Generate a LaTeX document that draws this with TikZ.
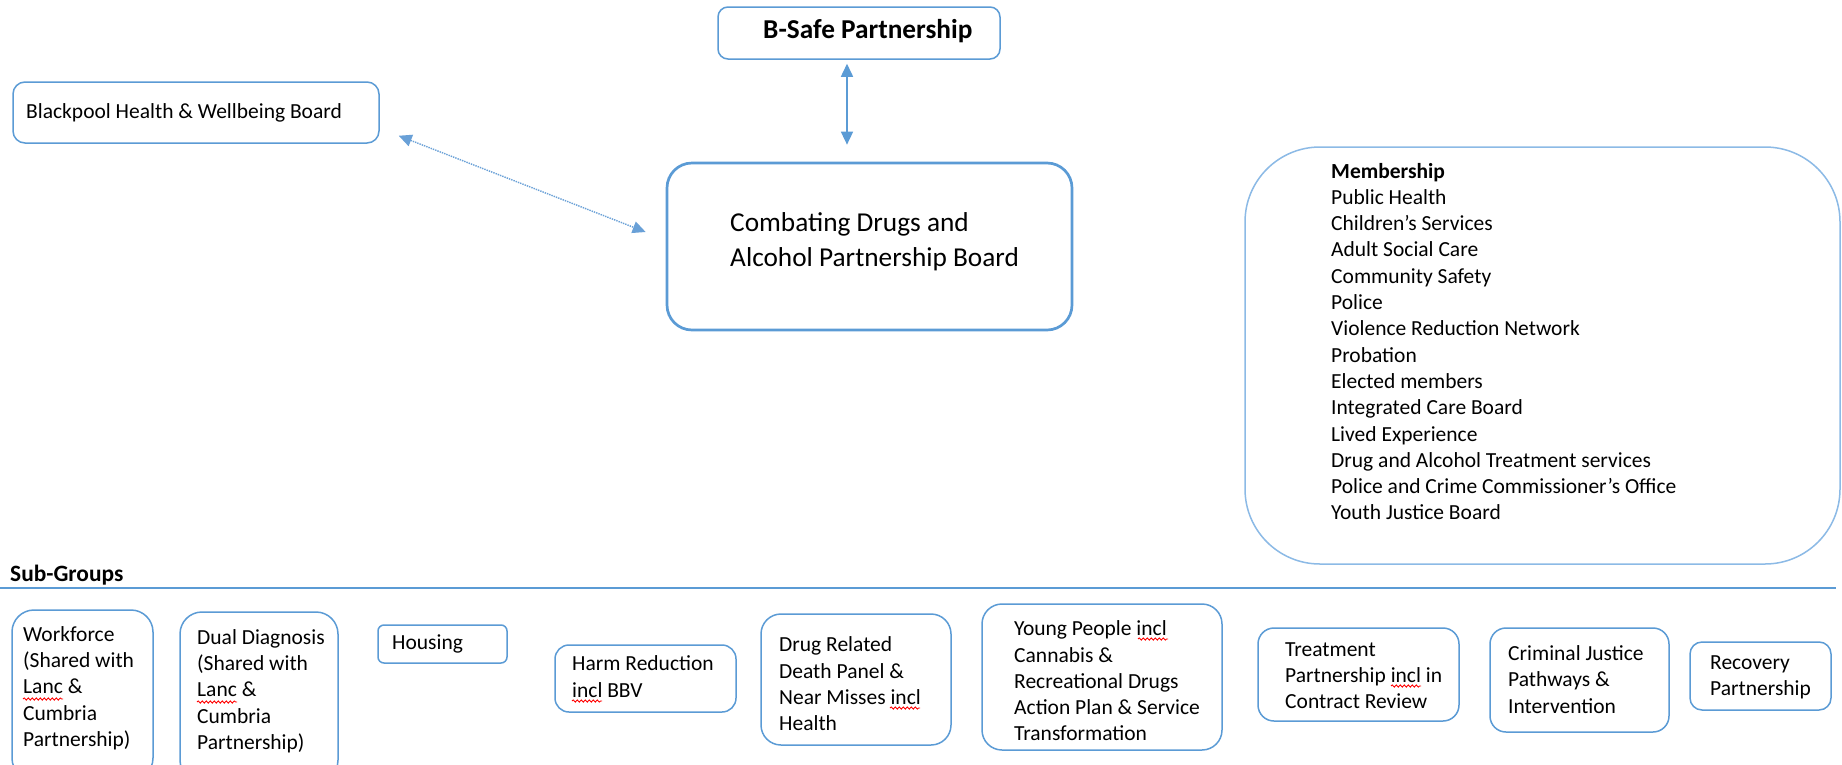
\documentclass[tikz,border=0pt]{standalone}
\usepackage{fontspec}
\setmainfont{Carlito}
\usetikzlibrary{arrows.meta,decorations.pathmorphing}
\definecolor{boxblue}{RGB}{91,155,213}
\definecolor{memblue}{RGB}{140,186,230}
\definecolor{dotblue}{RGB}{105,160,215}
\begin{document}
\begin{tikzpicture}[x=1pt,y=-1pt,
  box/.style={draw=boxblue, line width=1.5pt, rectangle, inner sep=0pt},
  txt/.style={font=\fontsize{21.5}{26.3}\selectfont, align=left, inner sep=0pt, anchor=west, text=black},
  bigtxt/.style={font=\fontsize{27.3}{35}\selectfont, align=left, inner sep=0pt, anchor=west, text=black},
  sqwave/.style={draw=red, line width=0.9pt, decorate, decoration={snake, amplitude=1.1pt, segment length=4pt}},
  biarrow/.style={draw=boxblue, line width=1.5pt, {Triangle[width=12pt,length=13pt]}-{Triangle[width=12pt,length=13pt]}}
]
\clip (0,0) rectangle (1842,764);
\fill[white] (0,0) rectangle (1842,764);

% top boxes
\node[box, rounded corners=10pt, minimum width=282pt, minimum height=52pt] (bsafe) at (859,33) {};
\node[bigtxt, font=\fontsize{27.3}{35}\selectfont\bfseries] (bsafet) at (763,31) {B-Safe Partnership};

\node[box, rounded corners=12pt, minimum width=366pt, minimum height=61pt] (hwb) at (196,112.5) {};
\node[txt] (hwbt) at (26,113) {Blackpool Health \& Wellbeing Board};

\node[box, line width=2.7pt, rounded corners=25pt, minimum width=405pt, minimum height=167pt] (cdb) at (869.5,246.5) {};
\node[bigtxt] (cdbt) at (730,242) {Combating Drugs and\\Alcohol Partnership Board};

\node[box, draw=memblue, rounded corners=75pt, minimum width=595pt, minimum height=417pt] (mem) at (1542.5,355.5) {};
\node[txt] (memt) at (1331,341.5) {\textbf{Membership}\\Public Health\\Children’s Services\\Adult Social Care\\Community Safety\\Police\\Violence Reduction Network\\Probation\\Elected members\\Integrated Care Board\\Lived Experience\\Drug and Alcohol Treatment services\\Police and Crime Commissioner’s Office\\Youth Justice Board};

% connectors
\draw[biarrow] ([xshift=-12pt,yshift=-4pt]bsafe.south) -- ([xshift=-22.5pt,yshift=17pt]cdb.north);
\draw[biarrow, draw=dotblue, line width=1.4pt, dash pattern=on 1.4pt off 1pt] ([xshift=19pt,yshift=8pt]hwb.south east) -- ([xshift=-20pt,yshift=14.5pt]cdb.west);

% sub-groups
\node[txt, font=\fontsize{23.4}{28}\selectfont\bfseries] (subg) at (10,575) {Sub-Groups};
\draw[boxblue, line width=1.8pt] (0,588) -- (1836,588);

\node[box, rounded corners=22pt, minimum width=141pt, minimum height=170pt] (wf) at (82.5,695) {};
\node[txt] (wft) at (23,688) {Workforce\\(Shared with\\Lanc \&\\Cumbria\\Partnership)};

\node[box, rounded corners=22pt, minimum width=158pt, minimum height=170pt] (dd) at (259,697) {};
\node[txt] (ddt) at (197,691) {Dual Diagnosis\\(Shared with\\Lanc \&\\Cumbria\\Partnership)};

\node[box, rounded corners=6pt, minimum width=129pt, minimum height=38pt] (hs) at (442.5,644) {};
\node[txt] (hst) at (392,644) {Housing};

\node[box, rounded corners=14pt, minimum width=181pt, minimum height=67pt] (hr) at (645.5,678.5) {};
\node[txt] (hrt) at (572,676.5) {Harm Reduction\\incl BBV};

\node[box, rounded corners=20pt, minimum width=190pt, minimum height=131pt] (drd) at (856,679.5) {};
\node[txt] (drdt) at (779,684) {Drug Related\\Death Panel \&\\Near Misses incl\\Health};

\node[box, rounded corners=20pt, minimum width=240pt, minimum height=146pt] (yp) at (1102,677) {};
\node[txt] (ypt) at (1014,681) {Young People incl\\Cannabis \&\\Recreational Drugs\\Action Plan \& Service\\Transformation};

\node[box, rounded corners=16pt, minimum width=201pt, minimum height=93pt] (tp) at (1358.5,674.5) {};
\node[txt] (tpt) at (1285,675.5) {Treatment\\Partnership incl in\\Contract Review};

\node[box, rounded corners=16pt, minimum width=179pt, minimum height=104pt] (cj) at (1579.5,680) {};
\node[txt] (cjt) at (1508,679.5) {Criminal Justice\\Pathways \&\\Intervention};

\node[box, rounded corners=12pt, minimum width=141pt, minimum height=68pt] (rp) at (1760.5,676) {};
\node[txt] (rpt) at (1710,677) {Recovery\\Partnership};

% spell-check underlines
\draw[sqwave] (23,699) -- (63,699);
\draw[sqwave] (197,702) -- (237,702);
\draw[sqwave] (572,701) -- (602,701);
\draw[sqwave] (890,708) -- (920,708);
\draw[sqwave] (1138,639) -- (1168,639);
\draw[sqwave] (1391,686) -- (1421,686);
\end{tikzpicture}
\end{document}
